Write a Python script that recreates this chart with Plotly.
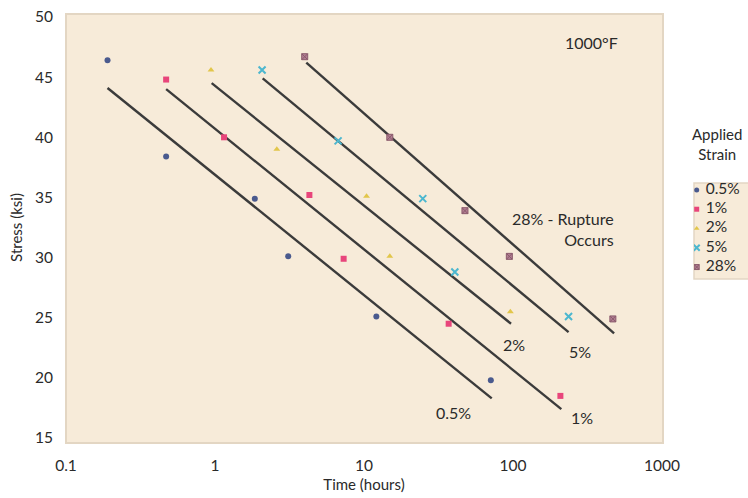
import plotly.graph_objects as go

# ---- data ----
series_names = ["0.5%", "1%", "2%", "5%", "28%"]

t_05 = [0.19, 0.47, 1.85, 3.1, 12.1, 71]
s_05 = [46.4, 38.4, 34.9, 30.1, 25.1, 19.8]

t_1 = [0.47, 1.15, 4.3, 7.3, 37, 208]
s_1 = [44.8, 40.0, 35.2, 29.9, 24.5, 18.5]

t_2 = [0.94, 2.6, 10.4, 14.9, 96]
s_2 = [45.6, 39.0, 35.1, 30.1, 25.5]

t_5 = [2.07, 6.7, 24.8, 40.7, 236]
s_5 = [45.6, 39.7, 34.9, 28.8, 25.1]

t_28 = [4.0, 14.9, 47.6, 94.5, 468]
s_28 = [46.7, 40.0, 33.9, 30.1, 24.9]

# trend lines (start, end)
line_t = {"0.5%": [0.19, 72], "1%": [0.47, 211], "2%": [0.95, 97], "5%": [2.09, 236], "28%": [4.1, 477]}
line_s = {"0.5%": [44.1, 18.3], "1%": [44.0, 17.4], "2%": [44.5, 24.5], "5%": [44.9, 23.8], "28%": [46.2, 23.7]}

x_ticks = [0.1, 1, 10, 100, 1000]
x_tick_labels = ["0.1", "1", "10", "100", "1000"]
y_ticks = [15, 20, 25, 30, 35, 40, 45, 50]

colors = ["#4a5a8e", "#e8457b", "#e2c64a", "#4cb7cf", "#b27d92"]
symbols = ["circle", "square", "triangle-up", "x-thin", "square-x"]

data_t = [t_05, t_1, t_2, t_5, t_28]
data_s = [s_05, s_1, s_2, s_5, s_28]

FONT = "Lato, 'Open Sans', sans-serif"
CREAM = "#f7ebd9"
FRAME = "#e3d6c3"
TXT = "#2a2a2a"

W, H = 748, 498
L, R, T, B = 66, 0, 17, 60
plot_w = W - L - R
x_dom_end = (662 - L) / plot_w          # main plot right edge
leg_x0 = (694 - L) / plot_w             # custom legend box left edge
leg_top_px, leg_bot_px = 183, 279
plot_h = H - T - B
leg_y1 = 1 - (leg_top_px - T) / plot_h
leg_y0 = 1 - (leg_bot_px - T) / plot_h


def marker_for(c, sym, size=6):
    mk = dict(color=c, size=size, symbol=sym)
    if sym == "x-thin":
        mk["line"] = dict(color=c, width=2)
        mk["size"] = size + 1
    elif sym == "square-x":
        mk["line"] = dict(color="#8a5b6c", width=1)
    return mk


fig = go.Figure()

for name in series_names:
    fig.add_trace(go.Scatter(
        x=line_t[name], y=line_s[name], mode="lines",
        line=dict(color="#3b3b3b", width=2.4), showlegend=False, hoverinfo="skip"))

for name, tx, sy, c, sym in zip(series_names, data_t, data_s, colors, symbols):
    fig.add_trace(go.Scatter(x=tx, y=sy, mode="markers", name=name,
                             marker=marker_for(c, sym), showlegend=False))

# ---- custom compact legend (on its own small axes) ----
n = len(series_names)
leg_rows = list(range(n))
for i, (name, c, sym) in enumerate(zip(series_names, colors, symbols)):
    fig.add_trace(go.Scatter(x=[0.3], y=[i], mode="markers", marker=marker_for(c, sym, 5),
                             xaxis="x2", yaxis="y2", showlegend=False, hoverinfo="skip"))
fig.add_trace(go.Scatter(x=[1.3] * n, y=leg_rows, mode="text", text=series_names,
                         textposition="middle right", textfont=dict(size=15.5, color=TXT),
                         xaxis="x2", yaxis="y2", showlegend=False, hoverinfo="skip"))

# ---- text annotations (log axis => x in log10 units) ----
annots = [
    dict(x=2.53, y=47.9, text="1000°F", showarrow=False, font=dict(size=16)),
    dict(x=2.69, y=32.4, text="28% - Rupture<br>Occurs", showarrow=False,
         font=dict(size=16), xanchor="right", align="right"),
    dict(x=2.007, y=22.8, text="2%", showarrow=False, font=dict(size=16)),
    dict(x=2.45, y=22.2, text="5%", showarrow=False, font=dict(size=16)),
    dict(x=1.60, y=17.1, text="0.5%", showarrow=False, font=dict(size=16)),
    dict(x=2.463, y=16.7, text="1%", showarrow=False, font=dict(size=16)),
    dict(x=(717 - L) / plot_w, y=1 - (144 - T) / plot_h, xref="paper", yref="paper",
         text="Applied<br>Strain", showarrow=False, font=dict(size=15),
         xanchor="center", yanchor="middle"),
]

shapes = [
    # plot area panel
    dict(type="rect", xref="paper", yref="paper", layer="below",
         x0=0, x1=(663 - L) / plot_w, y0=-(443 - (H - B)) / plot_h, y1=1 + (T - 14) / plot_h,
         fillcolor=CREAM, line=dict(color=FRAME, width=2)),
    # legend box
    dict(type="rect", xref="paper", yref="paper", layer="below",
         x0=leg_x0, x1=1.01, y0=leg_y0, y1=leg_y1,
         fillcolor=CREAM, line=dict(color=FRAME, width=1.5)),
]

fig.update_layout(
    width=W, height=H,
    margin=dict(l=L, r=R, t=T, b=B, autoexpand=False),
    paper_bgcolor="white",
    plot_bgcolor="rgba(0,0,0,0)",
    font=dict(family=FONT, color=TXT, size=15),
    annotations=annots,
    shapes=shapes,
    showlegend=False,
    xaxis=dict(type="log", range=[-1, 3], domain=[0, x_dom_end],
               tickvals=x_ticks, ticktext=x_tick_labels,
               showgrid=False, zeroline=False, showline=False, ticks="",
               ticklabelstandoff=16,
               title=dict(text="Time (hours)", font=dict(size=15), standoff=6),
               tickfont=dict(size=15.5)),
    yaxis=dict(range=[15, 50], domain=[0, 1], tickvals=y_ticks, showgrid=False, zeroline=False,
               showline=False, ticks="", ticklabelstandoff=12,
               title=dict(text="Stress (ksi)", font=dict(size=15), standoff=8),
               tickfont=dict(size=15.5)),
    xaxis2=dict(domain=[leg_x0, 1], range=[0, 6], anchor="y2", visible=False, fixedrange=True),
    yaxis2=dict(domain=[leg_y0, leg_y1], range=[4.62, -0.36], anchor="x2", visible=False,
                fixedrange=True),
)

fig.write_html("out.html", config={"displayModeBar": False},
               post_script="document.body.style.margin='0';document.body.style.overflow='hidden';")
